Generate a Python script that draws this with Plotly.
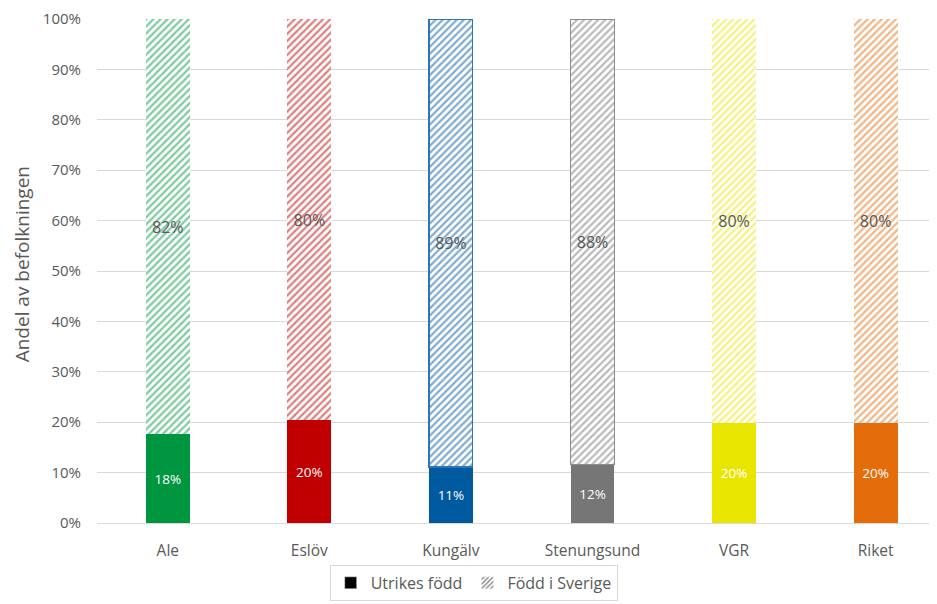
import plotly.graph_objects as go

kommuner = ["Ale", "Eslöv", "Kungälv", "Stenungsund", "VGR", "Riket"]
utrikes = [17.6, 20.4, 11.1, 11.6, 19.8, 19.9]
sverige = [82.4, 79.6, 88.9, 88.4, 80.2, 80.1]
farger = ["#00953F", "#C00000", "#005AA0", "#767676", "#E8E600", "#E46C0A"]
kanter = ["rgba(0,0,0,0)", "rgba(0,0,0,0)", "#2E75B6", "#8C8C8C", "rgba(0,0,0,0)", "rgba(0,0,0,0)"]
y_ticks = list(range(0, 101, 10))
y_ticktext = [f"{v}%" for v in y_ticks]

FONT = "Open Sans"

fig = go.Figure()

# nedre del: utrikes född (fylld)
fig.add_trace(
    go.Bar(
        x=kommuner,
        y=utrikes,
        width=0.31,
        marker=dict(color=farger, line=dict(width=0)),
        text=[f"{v:.0f}%" for v in utrikes],
        textposition="inside",
        insidetextanchor="middle",
        textfont=dict(color="white", size=13.5, family=FONT),
        showlegend=False,
        hoverinfo="skip",
    )
)

# övre del: född i Sverige (streckad)
fig.add_trace(
    go.Bar(
        x=kommuner,
        y=sverige,
        width=0.31,
        marker=dict(
            color="white",
            pattern=dict(shape="/", fgcolor=farger, bgcolor="white", size=5, solidity=0.45),
            line=dict(color=kanter, width=1.2),
        ),
        text=[f"{v:.0f}%" for v in sverige],
        textposition="inside",
        insidetextanchor="middle",
        textfont=dict(color="#595959", size=16, family=FONT),
        showlegend=False,
        hoverinfo="skip",
    )
)

# legend-poster
fig.add_trace(go.Bar(x=[kommuner[0]], y=[None], name="Utrikes född", marker=dict(color="black")))
fig.add_trace(
    go.Bar(
        x=[kommuner[0]],
        y=[None],
        name="Född i Sverige",
        marker=dict(color="white", pattern=dict(shape="/", fgcolor="black", bgcolor="white", size=4, solidity=0.4)),
    )
)

# y-axelns rubrik som annotation så den kan ligga längre ut
fig.add_annotation(
    text="Andel av befolkningen",
    textangle=-90,
    xref="paper",
    yref="paper",
    x=-0.088,
    y=0.514,
    xanchor="center",
    yanchor="middle",
    showarrow=False,
    font=dict(size=19, color="#595959", family=FONT),
)

# sidan har 8px body-marginal, så allt förskjuts 8px
fig.update_layout(
    barmode="stack",
    width=937,
    height=604,
    plot_bgcolor="white",
    paper_bgcolor="white",
    margin=dict(l=89, r=0, t=11, b=89, autoexpand=False),
    font=dict(family=FONT, color="#595959", size=13),
    xaxis=dict(
        range=[-0.5, 5.49],
        showgrid=False,
        showline=True,
        linecolor="#D9D9D9",
        ticks="outside",
        ticklen=13,
        tickcolor="white",
        tickfont=dict(size=15.5, color="#595959"),
        automargin=False,
    ),
    yaxis=dict(
        range=[0, 100],
        tickvals=y_ticks,
        ticktext=y_ticktext,
        gridcolor="#D9D9D9",
        zeroline=False,
        ticks="outside",
        ticklen=12,
        tickcolor="white",
        tickfont=dict(size=15, color="#595959"),
        automargin=False,
    ),
    legend=dict(
        orientation="h",
        traceorder="normal",
        xref="container",
        yref="container",
        x=0.497,
        xanchor="center",
        y=0.078,
        yanchor="top",
        bordercolor="#D9D9D9",
        borderwidth=1,
        font=dict(size=16, color="#595959"),
    ),
)

fig.write_html("out.html")
